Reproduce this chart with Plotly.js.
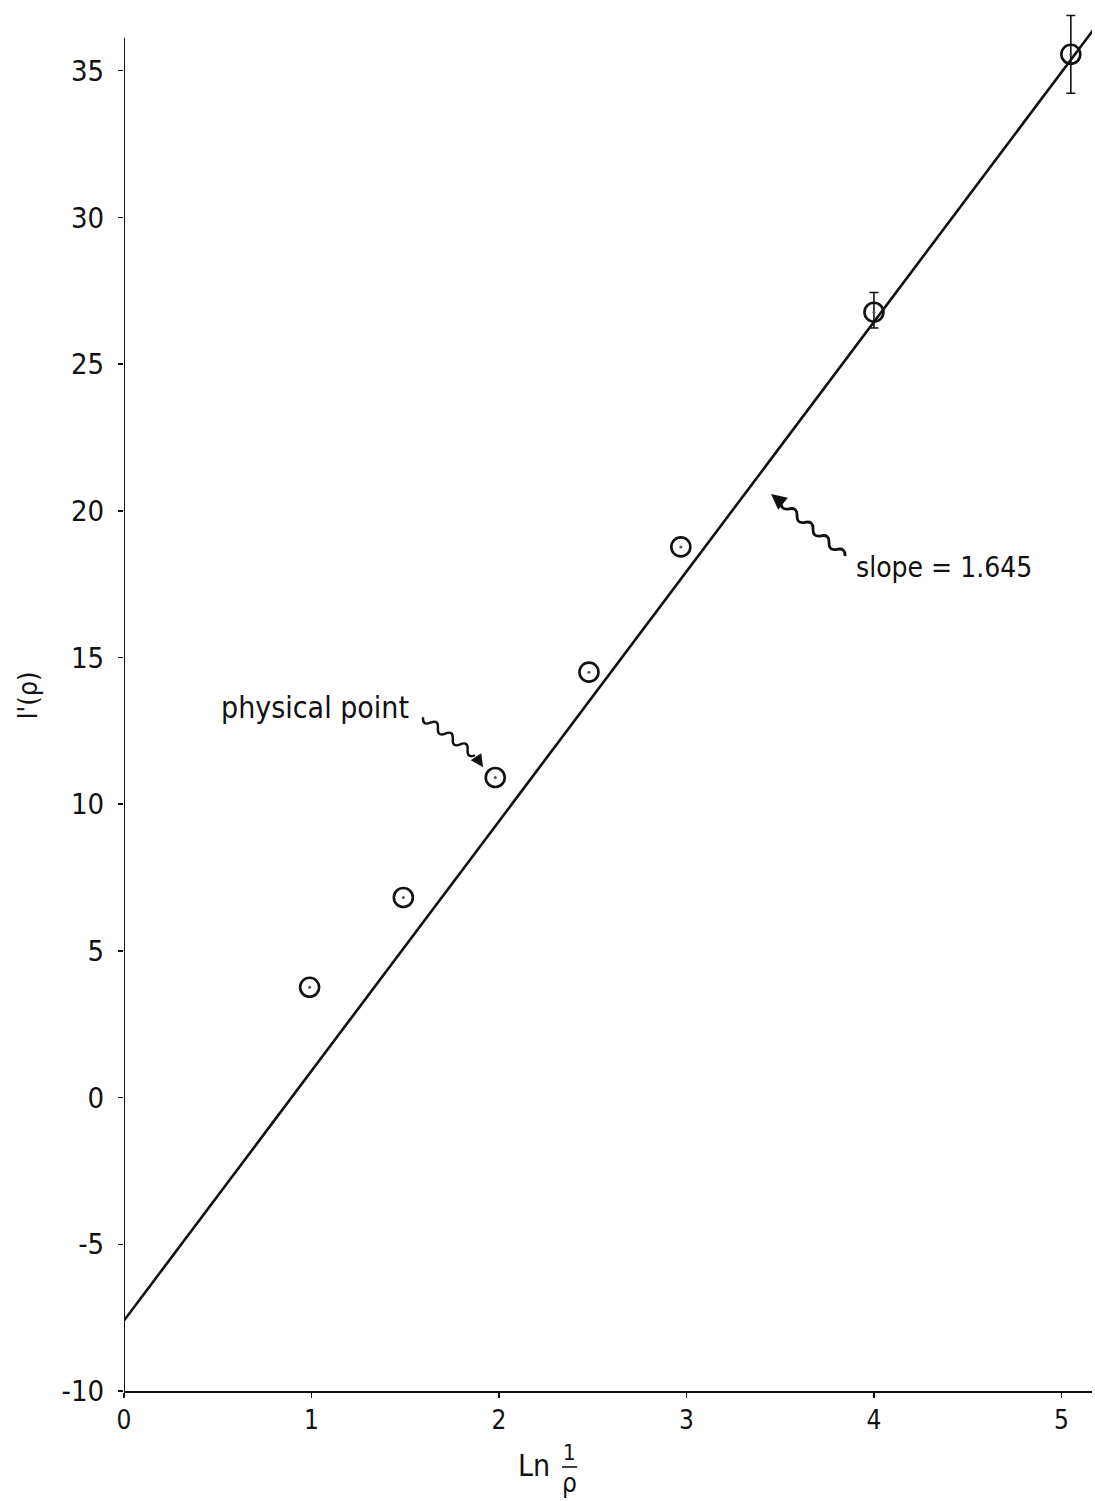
<!DOCTYPE html>
<html>
<head>
<meta charset="utf-8">
<script src="https://cdn.plot.ly/plotly-3.0.1.min.js"></script>
<style>
  html, body { margin: 0; padding: 0; background: #fff; }
  #chart { width: 1095px; height: 1501px; }
</style>
</head>
<body>
<div id="chart"></div>
<script>
// Measured points: I'(rho) against ln(1/rho); null = no error bar
const lnInvRho = [0.99, 1.49, 1.98, 2.48, 2.97, 4.0, 5.05];
const iPrime   = [3.76, 6.82, 10.91, 14.5, 18.77, 26.77, 35.56];
const errUp    = [null, null, null, null, null, 0.67, 1.32];
const errDown  = [null, null, null, null, null, 0.54, 1.33];

// Straight-line fit drawn through the points
const fitX = [0, 5.2];
const fitY = [-7.6, 36.65];

// Axis ticks
const xTicks = [0, 1, 2, 3, 4, 5];
const xTickText = ['0', '1', '2', '3', '4', '5'];
const yTicks = [-10, -5, 0, 5, 10, 15, 20, 25, 30, 35];
const yTickText = ['-10', '-5', '0', '5', '10', '15', '20', '25', '30', '35'];

// Annotation texts
const slopeLabel = 'slope = 1.645';
const pointLabel = 'physical point';

const FONT = '"Liberation Sans Narrow", "DejaVu Sans Condensed", "Arial Narrow", sans-serif';
const INK = '#111';

// Axis extents
const xMax = 5.163;
const yMin = -10, yMax = 37.41;
const yAxisTop = 36.12;

// Position of the fraction bar in the x-axis title (paper units)
const fracX = 0.4603, fracY = -0.0546;

// Missing error values become NaN so no bar is drawn there
const toErr = a => a.map(v => (v === null ? NaN : v));

// Wavy leader line, in pixels relative to its anchor (screen y down)
function squiggle(sx, sy, ex, ey, halfWaves, amp) {
  const dx = ex - sx, dy = ey - sy;
  const len = Math.hypot(dx, dy);
  const nx = -dy / len, ny = dx / len;
  let p = 'M ' + sx.toFixed(2) + ' ' + (-sy).toFixed(2);
  for (let i = 0; i < halfWaves; i++) {
    const t0 = i / halfWaves, t1 = (i + 1) / halfWaves, tm = (t0 + t1) / 2;
    const s = (i % 2 === 0 ? 1 : -1) * amp * 2;
    const cx = sx + dx * tm + nx * s, cy = sy + dy * tm + ny * s;
    const x1 = sx + dx * t1, y1 = sy + dy * t1;
    p += ' Q ' + cx.toFixed(2) + ' ' + (-cy).toFixed(2) + ' ' + x1.toFixed(2) + ' ' + (-y1).toFixed(2);
  }
  return p;
}

// Arrow tips in data space
const pointTip = {x: 1.915, y: 11.26};
const slopeTip = {x: 3.451, y: 20.57};

const traces = [
  {
    x: fitX, y: fitY,
    type: 'scatter', mode: 'lines',
    line: {color: INK, width: 2.6},
    hoverinfo: 'skip'
  },
  {
    x: lnInvRho, y: iPrime,
    type: 'scatter', mode: 'markers',
    marker: {symbol: 'circle-open', size: 19, color: INK, line: {color: INK, width: 2.6}},
    error_y: {type: 'data', symmetric: false, array: toErr(errUp), arrayminus: toErr(errDown),
              color: INK, thickness: 1.6, width: 4.5},
    cliponaxis: false
  },
  {
    // small centre dot inside each circle
    x: lnInvRho, y: iPrime,
    type: 'scatter', mode: 'markers',
    marker: {symbol: 'circle', size: 3, color: '#555'},
    cliponaxis: false
  }
];

const layout = {
  width: 1095, height: 1501,
  margin: {l: 124, r: 3, t: 0, b: 110},
  paper_bgcolor: '#fff', plot_bgcolor: '#fff',
  showlegend: false,
  font: {family: FONT, color: INK},
  xaxis: {
    range: [0, xMax],
    tickmode: 'array', tickvals: xTicks, ticktext: xTickText,
    ticks: 'outside', ticklen: 5, tickwidth: 1.5, tickcolor: INK,
    showline: true, linecolor: INK, linewidth: 2,
    showgrid: false, zeroline: false,
    tickfont: {family: FONT, size: 26, color: INK}
  },
  yaxis: {
    range: [yMin, yMax],
    tickmode: 'array', tickvals: yTicks, ticktext: yTickText,
    ticks: 'outside', ticklen: 5, tickwidth: 1.5, tickcolor: INK,
    ticklabelstandoff: 8,
    showline: false,
    showgrid: false, zeroline: false,
    tickfont: {family: FONT, size: 29, color: INK},
    title: {text: "I'(ρ)", font: {family: FONT, size: 27, color: INK}, standoff: 16}
  },
  shapes: [
    // vertical axis line, stopping below the top of the frame
    {type: 'line', xref: 'x', yref: 'y', x0: 0, x1: 0, y0: yMin, y1: yAxisTop,
     line: {color: INK, width: 2}},
    // fraction bar in the x-axis title
    {type: 'line', xref: 'paper', yref: 'paper', x0: fracX - 0.0078, x1: fracX + 0.0078, y0: fracY, y1: fracY,
     line: {color: INK, width: 1.6}},
    // wavy leaders
    {type: 'path', xref: 'x', yref: 'y', xsizemode: 'pixel', ysizemode: 'pixel',
     xanchor: pointTip.x, yanchor: pointTip.y,
     path: squiggle(-60, -50, -8, -12, 7, 3.8), line: {color: INK, width: 2.4}},
    {type: 'path', xref: 'x', yref: 'y', xsizemode: 'pixel', ysizemode: 'pixel',
     xanchor: slopeTip.x, yanchor: slopeTip.y,
     path: squiggle(74, 62, 10, 8, 8, 3.4), line: {color: INK, width: 2.8}}
  ],
  annotations: [
    {x: 1.019, y: 13.31, xref: 'x', yref: 'y', text: pointLabel, showarrow: false,
     xanchor: 'center', yanchor: 'middle',
     font: {family: FONT, size: 30, color: INK}},
    {x: 4.373, y: 18.08, xref: 'x', yref: 'y', text: slopeLabel, showarrow: false,
     xanchor: 'center', yanchor: 'middle',
     font: {family: FONT, size: 28, color: INK}},
    // arrowheads at the end of the leaders
    {x: pointTip.x, y: pointTip.y, xref: 'x', yref: 'y', text: '', showarrow: true,
     ax: -8, ay: -12, arrowhead: 2, arrowsize: 1.1, arrowwidth: 2.3, arrowcolor: INK, standoff: 0},
    {x: slopeTip.x, y: slopeTip.y, xref: 'x', yref: 'y', text: '', showarrow: true,
     ax: 10, ay: 8, arrowhead: 2, arrowsize: 1.1, arrowwidth: 2.8, arrowcolor: INK, standoff: 0},
    // x-axis title: Ln 1/ρ
    {x: 0.4236, y: -0.0539, xref: 'paper', yref: 'paper', text: 'Ln', showarrow: false,
     xanchor: 'center', yanchor: 'middle',
     font: {family: FONT, size: 30, color: INK}},
    {x: fracX, y: fracY, xref: 'paper', yref: 'paper', text: '1', showarrow: false,
     xanchor: 'center', yanchor: 'bottom', borderpad: 0, yshift: 1,
     font: {family: FONT, size: 22, color: INK}},
    {x: fracX, y: fracY, xref: 'paper', yref: 'paper', text: 'ρ', showarrow: false,
     xanchor: 'center', yanchor: 'top', borderpad: 0,
     font: {family: FONT, size: 26, color: INK}}
  ]
};

Plotly.newPlot('chart', traces, layout, {staticPlot: true, displayModeBar: false});
</script>
</body>
</html>
